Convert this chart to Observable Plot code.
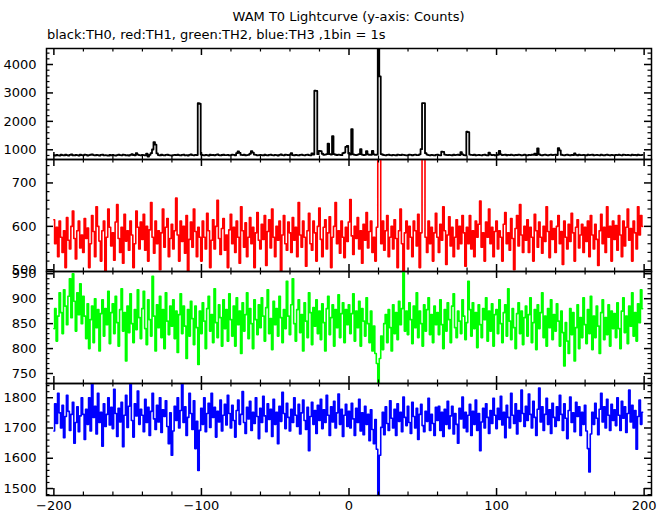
<!DOCTYPE html>
<html><head><meta charset="utf-8">
<script src="https://cdn.jsdelivr.net/npm/d3@7"></script>
<script src="https://cdn.jsdelivr.net/npm/@observablehq/plot@0.6"></script>
<style>
body{margin:0;background:#fff;}
#wrap{position:relative;width:669px;height:515px;overflow:hidden;font-family:"DejaVu Sans",sans-serif;background:#fff;}
.t{position:absolute;font-size:13px;line-height:16px;color:#000;white-space:nowrap;}
.p{position:absolute;left:0;}
</style></head><body><div id="wrap">
<div class="t" style="left:46px;width:605px;text-align:center;top:9px">WAM T0 Lightcurve (y-axis: Counts)</div>
<div class="t" style="left:47px;top:27px">black:TH0, red:TH1, green:TH2, blue:TH3 ,1bin = 1s</div>
</div>
<script>
// time bins: first bin center and bin size (s)
const binStart = -200;
const binSize = 1;

const TH0 = [
812,795,820,806,798,830,815,802,826,810,795,818,834,808,800,822,812,797,828,815,
806,830,818,799,812,826,840,815,803,822,810,796,818,829,806,814,800,792,816,808,
822,805,798,815,830,812,804,826,818,800,812,795,820,845,816,808,880,832,815,806,
824,810,800,868,760,822,880,1010,1270,1180,870,815,800,825,812,803,818,826,810,806,
798,815,822,809,830,812,800,818,826,805,813,797,820,835,812,806,822,815,2640,2620,
830,812,806,820,815,798,826,810,818,805,822,835,812,800,816,828,809,815,822,806,
812,825,818,805,880,940,890,820,812,826,808,815,822,860,950,900,830,818,806,815,
822,810,803,828,815,800,818,832,812,806,824,815,798,820,838,812,805,826,818,810,
826,880,815,808,822,812,800,818,830,815,806,820,828,812,805,870,830,3080,3070,845,
960,950,860,825,830,850,1220,845,830,1480,850,825,815,830,822,810,880,900,1100,1140,
870,830,1730,840,820,812,830,845,1020,830,815,822,950,840,818,826,960,835,820,830,
4700,3580,850,826,812,805,820,830,815,808,822,812,800,826,818,810,830,822,815,806,
812,826,818,808,822,830,815,812,840,1020,2640,2640,880,830,815,806,822,812,800,818,
826,812,805,930,925,830,818,810,822,815,808,826,812,820,830,815,920,835,812,806,
1640,1620,830,818,812,826,808,815,822,810,805,818,826,812,800,900,830,815,822,808,
815,826,960,840,812,820,830,806,818,812,826,815,805,822,812,830,818,806,815,825,
812,806,822,815,830,818,860,812,1050,840,815,808,822,830,812,806,818,826,812,820,
830,815,1060,980,826,812,806,820,830,815,808,822,812,870,818,805,826,815,810,822,
815,806,826,812,820,830,808,815,822,812,806,826,815,800,818,830,812,805,822,815,
808,822,815,830,812,806,826,818,810,822,815,805,826,812,820,808,830,815,812,820];

const TH1 = [
615,560,598,530,612,575,540,590,505,620,568,548,600,635,572,525,590,612,550,580,
540,618,572,596,505,560,625,588,530,645,600,566,520,590,612,495,575,640,598,555,
585,522,610,650,572,540,598,515,628,566,590,545,612,580,505,560,635,598,548,610,
570,628,545,600,520,592,655,575,538,612,560,590,500,585,640,552,598,618,530,572,
605,548,590,665,580,520,612,565,600,538,625,498,570,610,552,640,588,530,598,575,
520,612,575,548,630,590,505,568,615,548,600,660,572,535,595,618,545,580,505,592,
628,560,598,540,612,575,515,645,590,552,608,530,575,620,560,598,505,585,632,568,
548,605,570,625,510,588,615,550,640,575,530,600,568,612,498,580,625,560,545,610,
585,540,620,568,598,530,655,580,552,612,575,508,590,630,560,545,612,585,520,600,
642,570,530,598,615,548,585,622,505,575,600,655,560,590,538,612,575,528,598,565,
610,662,578,535,600,572,620,548,590,515,605,568,632,550,588,612,540,575,520,598,
800,800,560,612,545,590,625,530,575,600,548,615,572,505,590,640,560,495,585,612,
548,600,575,530,612,590,555,628,505,585,800,800,575,540,612,560,598,520,585,630,
575,540,605,568,645,590,512,580,622,555,598,530,575,615,548,600,560,625,585,508,
598,560,625,548,590,530,612,575,605,658,552,585,520,610,575,640,560,598,530,588,
612,548,590,575,520,605,632,560,585,545,618,572,500,595,625,555,650,580,540,600,
568,615,540,598,575,520,628,590,552,610,575,538,600,565,645,588,528,612,570,595,
540,600,625,560,588,512,612,575,548,605,565,630,585,520,598,615,550,580,605,540,
598,565,612,530,625,580,548,605,570,510,590,628,560,598,540,645,575,600,520,612,
570,602,545,625,580,530,612,555,598,640,568,595,520,612,585,548,645,580,625,600];

const TH2 = [
840,880,815,865,912,872,830,918,885,848,905,940,862,950,895,835,912,868,930,850,
905,865,820,890,800,858,885,812,900,842,878,795,870,898,825,880,848,915,810,872,
890,830,905,852,805,878,920,835,872,775,885,832,910,850,812,878,838,918,862,820,
880,915,840,808,898,858,825,945,865,795,888,842,905,822,878,800,912,855,828,885,
845,898,820,875,792,868,910,830,885,845,780,878,825,895,860,808,885,842,768,875,
830,892,855,800,880,905,835,868,812,920,852,822,888,862,805,898,840,878,815,910,
858,825,885,805,902,848,875,790,892,835,868,912,820,880,850,800,898,858,828,888,
842,902,865,815,882,918,830,860,798,895,848,880,825,905,862,812,878,840,935,865,
828,888,940,850,815,878,898,832,868,795,892,855,822,912,872,808,882,845,898,830,
875,818,890,852,795,880,905,828,862,888,805,878,842,908,822,870,892,812,878,848,
888,830,870,910,815,875,842,895,805,880,855,825,902,850,812,875,795,845,790,770,
722,780,825,798,850,868,812,878,842,795,888,830,872,818,895,848,880,958,835,875,
828,892,858,810,885,842,912,822,875,850,805,888,835,878,902,828,868,812,885,848,
872,828,898,848,800,878,835,892,858,812,885,910,842,822,875,855,830,898,865,818,
852,935,878,825,892,840,872,802,888,848,822,880,858,902,815,875,835,890,805,868,
878,830,898,850,812,872,888,825,920,855,818,880,842,800,870,892,830,875,808,862,
885,825,868,902,812,852,878,798,888,840,872,912,822,865,805,880,842,898,818,868,
835,890,855,805,875,832,765,852,815,790,880,828,872,775,842,888,800,862,822,902,
848,810,878,830,905,798,865,822,885,845,790,872,898,818,862,828,888,805,875,840,
870,822,892,840,800,875,902,832,865,810,885,845,912,825,872,815,890,852,918,880];

const TH3 = [
1690,1780,1715,1815,1750,1700,1775,1668,1738,1808,1755,1692,1745,1785,1650,1718,1770,1688,1740,1800,
1745,1662,1762,1712,1800,1690,1845,1735,1772,1680,1815,1718,1752,1640,1780,1705,1745,1800,1710,1768,
1698,1828,1748,1672,1765,1720,1785,1638,1742,1808,1702,1772,1845,1725,1670,1780,1740,1822,1712,1762,
1742,1688,1795,1718,1768,1675,1755,1815,1730,1695,1775,1720,1800,1685,1760,1738,1790,1705,1648,1750,
1610,1690,1772,1725,1800,1700,1758,1845,1718,1770,1675,1735,1815,1748,1695,1790,1632,1722,1560,1692,
1765,1712,1800,1688,1748,1782,1702,1815,1735,1768,1670,1755,1720,1792,1690,1742,1778,1710,1808,1748,
1700,1775,1725,1670,1758,1792,1712,1745,1820,1718,1682,1768,1730,1788,1692,1752,1715,1800,1738,1665,
1765,1718,1805,1740,1688,1780,1728,1762,1672,1795,1712,1752,1648,1772,1722,1818,1748,1698,1782,1735,
1690,1762,1718,1800,1742,1705,1778,1680,1750,1792,1725,1695,1768,1625,1738,1785,1712,1758,1682,1775,
1725,1795,1698,1760,1718,1808,1742,1675,1770,1720,1788,1700,1750,1812,1712,1762,1672,1742,1778,1705,
1755,1700,1782,1730,1675,1765,1718,1795,1690,1750,1678,1772,1712,1745,1658,1760,1695,1648,1728,1630,
1470,1610,1702,1752,1678,1770,1715,1692,1790,1732,1700,1762,1675,1780,1722,1752,1688,1802,1735,1708,
1772,1718,1682,1785,1738,1700,1765,1662,1745,1778,1708,1688,1755,1722,1798,1692,1745,1715,1675,1768,
1725,1772,1692,1752,1672,1762,1712,1788,1698,1740,1772,1680,1748,1712,1650,1765,1730,1802,1700,1752,
1688,1742,1778,1675,1755,1712,1792,1692,1748,1625,1720,1765,1700,1780,1735,1682,1758,1715,1798,1742,
1698,1765,1728,1805,1710,1752,1668,1775,1735,1700,1815,1742,1715,1780,1680,1758,1722,1825,1748,1705,
1772,1725,1812,1745,1700,1788,1735,1675,1762,1832,1720,1770,1692,1745,1798,1712,1760,1682,1782,1735,
1705,1770,1725,1808,1745,1692,1780,1732,1665,1758,1802,1718,1750,1688,1785,1738,1770,1675,1752,1712,
1775,1690,1632,1555,1680,1752,1712,1782,1732,1678,1762,1815,1720,1770,1700,1795,1742,1692,1778,1725,
1760,1708,1800,1742,1692,1788,1732,1770,1685,1748,1825,1720,1775,1700,1758,1630,1738,1792,1712,1752];

// axis setup
const xDomain = [-205, 205];
const xMajor = [-200, -100, 0, 100, 200];
const xMinorStep = 20;

const panels = [
  {name: "TH0", values: TH0, color: "#000000", width: 1.8, top: 48, bottom: 159, domain: [658, 4563], major: [1000, 2000, 3000, 4000], minorStep: 200},
  {name: "TH1", values: TH1, color: "#ff0000", width: 1.6, top: 159, bottom: 271, domain: [496, 754], major: [500, 600, 700], minorStep: 20},
  {name: "TH2", values: TH2, color: "#00ff00", width: 1.6, top: 271, bottom: 383, domain: [730, 954.5], major: [750, 800, 850, 900, 950], minorStep: 10},
  {name: "TH3", values: TH3, color: "#0000ff", width: 1.6, top: 383, bottom: 495, domain: [1477, 1847], major: [1500, 1600, 1700, 1800], minorStep: 20}
];

const W = 669, ML = 46, MR = 18, MT = 12;
const innerW = W - ML - MR;
const majLen = 7, minLen = 3.5;
const fmt = d3.format("d");
const wrap = document.getElementById("wrap");

const xMinor = d3.range(-200, 201, xMinorStep).filter(v => !xMajor.includes(v));

panels.forEach((p, i) => {
  const last = i === panels.length - 1;
  const MB = last ? 26 : 12;
  const h = p.bottom - p.top;
  const data = p.values.map((v, k) => ({t: binStart + k * binSize, c: v}));
  const [y0, y1] = p.domain;
  const yMinor = d3.range(Math.ceil(y0 / p.minorStep) * p.minorStep, y1, p.minorStep)
    .filter(v => !p.major.includes(v));
  const yMaj = p.major.filter(v => v >= y0 && v <= y1);
  const marks = [
    Plot.lineY(data, {x: "t", y: "c", curve: "step", stroke: p.color, strokeWidth: p.width, clip: true}),
    Plot.frame({stroke: "black", strokeWidth: 1.5}),
    Plot.tickX(xMajor, {x: d => d, insetTop: h - majLen, stroke: "black", strokeWidth: 1.5}),
    Plot.tickX(xMajor, {x: d => d, insetBottom: h - majLen, stroke: "black", strokeWidth: 1.5}),
    Plot.tickX(xMinor, {x: d => d, insetTop: h - minLen, stroke: "black", strokeWidth: 1.2}),
    Plot.tickX(xMinor, {x: d => d, insetBottom: h - minLen, stroke: "black", strokeWidth: 1.2}),
    Plot.tickY(yMaj, {y: d => d, insetRight: innerW - majLen, stroke: "black", strokeWidth: 1.5}),
    Plot.tickY(yMaj, {y: d => d, insetLeft: innerW - majLen, stroke: "black", strokeWidth: 1.5}),
    Plot.tickY(yMinor, {y: d => d, insetRight: innerW - minLen, stroke: "black", strokeWidth: 1.2}),
    Plot.tickY(yMinor, {y: d => d, insetLeft: innerW - minLen, stroke: "black", strokeWidth: 1.2}),
    Plot.axisY({ticks: yMaj, tickFormat: fmt, anchor: "left", tickSize: 0, tickPadding: 10, label: null, fontSize: 13, fill: "black"})
  ];
  if (last) {
    marks.push(Plot.axisX({ticks: xMajor, tickFormat: fmt, anchor: "bottom", tickSize: 0, tickPadding: 5, label: null, fontSize: 13, fill: "black"}));
  }
  const chart = Plot.plot({
    width: W,
    height: h + MT + MB,
    marginLeft: ML, marginRight: MR, marginTop: MT, marginBottom: MB,
    x: last ? {domain: xDomain} : {domain: xDomain, axis: null},
    y: {domain: p.domain},
    style: {background: "transparent", overflow: "visible", fontFamily: "DejaVu Sans, sans-serif", color: "black"},
    marks
  });
  const holder = document.createElement("div");
  holder.className = "p";
  holder.style.top = (p.top - MT) + "px";
  holder.appendChild(chart);
  wrap.appendChild(holder);
});
</script>
</body></html>
